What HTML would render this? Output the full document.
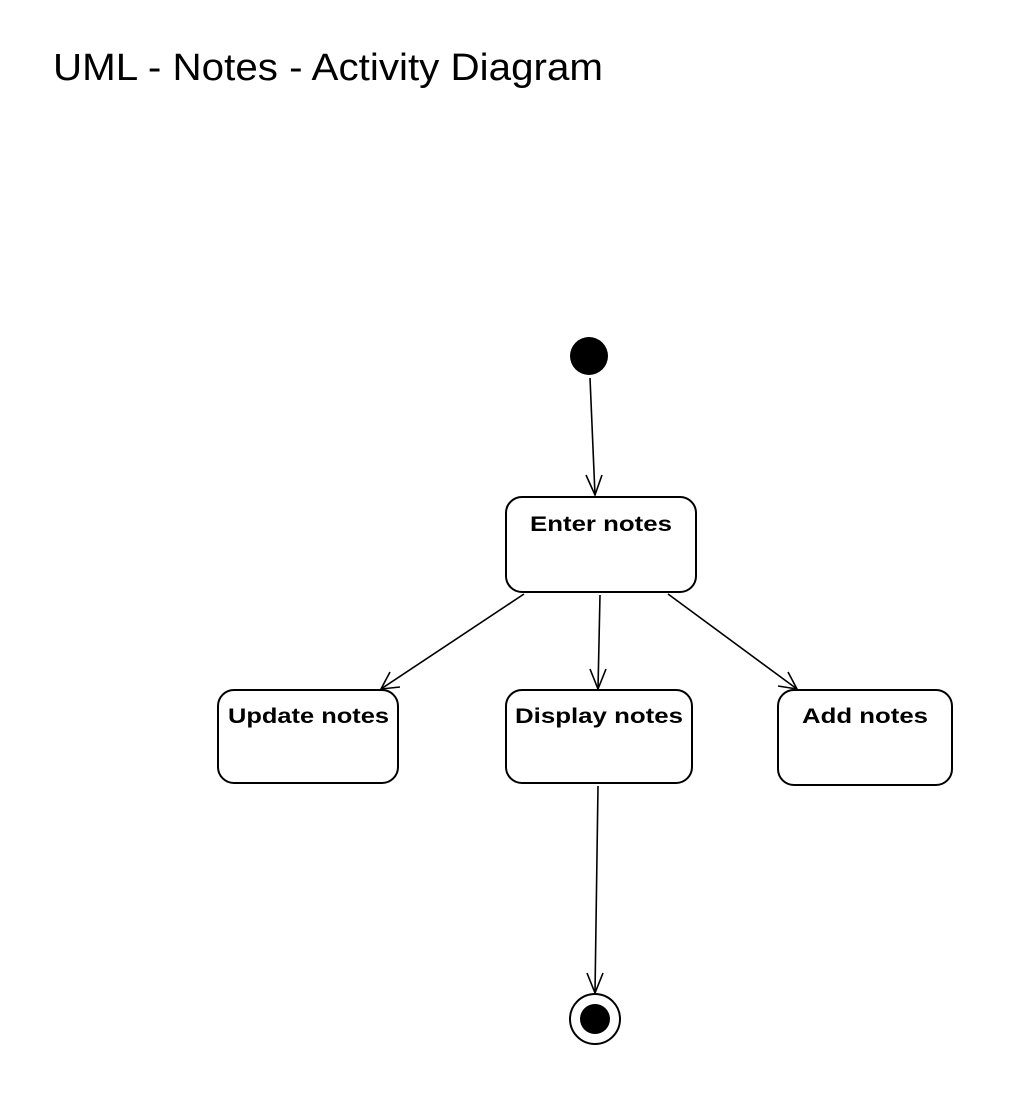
<!DOCTYPE html>
<html><head><meta charset="utf-8"><style>html,body{margin:0;padding:0;background:#fff}</style></head>
<body>
<svg width="1010" height="1110" xmlns="http://www.w3.org/2000/svg" style="display:block">
<rect width="1010" height="1110" fill="#fff"/>
<text x="53" y="80" font-family="Liberation Sans, sans-serif" font-size="38" textLength="550" lengthAdjust="spacingAndGlyphs" fill="#000">UML - Notes - Activity Diagram</text>
<g fill="#fff" stroke="#000" stroke-width="2">
<rect x="506" y="497" width="190" height="95" rx="16"/>
<rect x="218" y="690" width="180" height="93" rx="16"/>
<rect x="506" y="690" width="186" height="93" rx="16"/>
<rect x="778" y="690" width="174" height="95" rx="16"/>
<circle cx="595" cy="1019" r="25"/>
</g>
<circle cx="589" cy="356" r="19" fill="#000"/>
<circle cx="595" cy="1019" r="15" fill="#000"/>
<g stroke="#000" stroke-width="1.6" fill="none">
<line x1="590" y1="378" x2="595" y2="495"/>
<polyline points="586,475 595,495 602,475"/>
<line x1="524" y1="594" x2="381" y2="689"/>
<polyline points="390,672 381,689 400,687"/>
<line x1="600" y1="595" x2="598" y2="689"/>
<polyline points="590,669 598,689 606,669"/>
<line x1="668" y1="594" x2="797" y2="689"/>
<polyline points="778,686 797,689 788,672"/>
<line x1="598" y1="786" x2="595" y2="993"/>
<polyline points="587,973 595,993 603,973"/>
</g>
<g font-family="Liberation Sans, sans-serif" font-size="21" font-weight="bold" fill="#000" lengthAdjust="spacingAndGlyphs">
<text x="530" y="531" textLength="142" lengthAdjust="spacingAndGlyphs">Enter notes</text>
<text x="228" y="723" textLength="161" lengthAdjust="spacingAndGlyphs">Update notes</text>
<text x="515" y="723" textLength="168" lengthAdjust="spacingAndGlyphs">Display notes</text>
<text x="802" y="723" textLength="126" lengthAdjust="spacingAndGlyphs">Add notes</text>
</g>
</svg>
</body></html>
